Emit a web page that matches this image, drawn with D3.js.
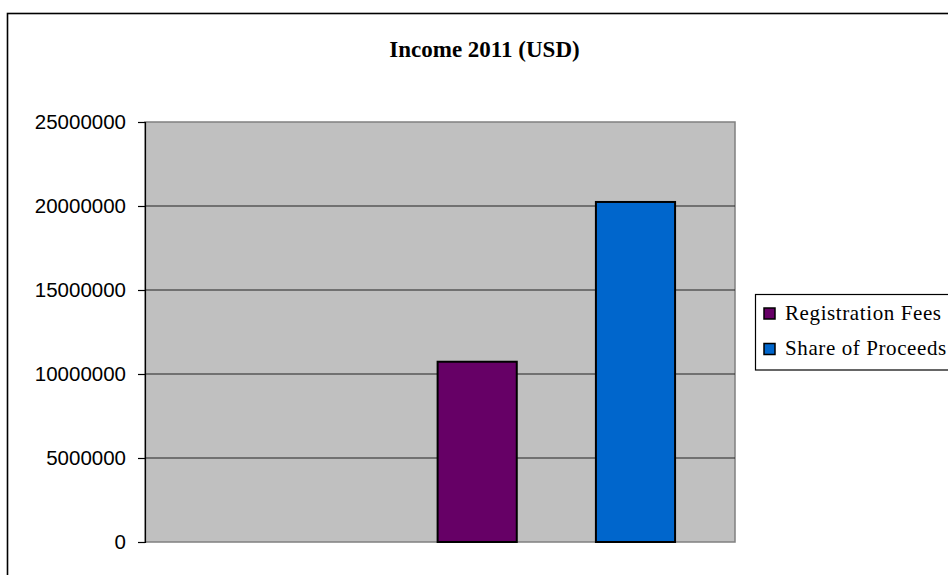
<!DOCTYPE html>
<html>
<head>
<meta charset="utf-8">
<script src="https://cdn.jsdelivr.net/npm/d3@7"></script>
<style>
  html, body { margin: 0; padding: 0; background: #fff; }
  svg { display: block; }
</style>
</head>
<body>
<svg id="chart" width="948" height="575"></svg>
<script>
// Data
const title = "Income 2011 (USD)";
const seriesNames = ["Registration Fees", "Share of Proceeds"];
const seriesValues = [10730000, 20240000];
const seriesColors = ["#660066", "#0066CC"];
const yTicks = [0, 5000000, 10000000, 15000000, 20000000, 25000000];

const svg = d3.select("#chart");
const W = 948, H = 575;
const plot = { left: 145, right: 735, top: 122, bottom: 542 };

// outer chart border (cropped at right & bottom)
svg.append("rect")
  .attr("x", 7.5).attr("y", 13.5)
  .attr("width", 1000).attr("height", 1000)
  .attr("fill", "#fff").attr("stroke", "#000").attr("stroke-width", 1.6);

// title
svg.append("text")
  .attr("x", 484.5).attr("y", 57)
  .attr("text-anchor", "middle")
  .attr("font-family", "Liberation Serif, Times New Roman, serif")
  .attr("font-weight", "bold")
  .attr("font-size", 23)
  .text(title);

const y = d3.scaleLinear().domain([0, 25000000]).range([plot.bottom, plot.top]);
const x = d3.scaleBand()
  .domain(seriesNames)
  .range([plot.left, plot.right])
  .paddingInner(0.5)
  .paddingOuter(1.1135)
  .align(0.83);

// plot area background
svg.append("rect")
  .attr("x", plot.left).attr("y", plot.top)
  .attr("width", plot.right - plot.left).attr("height", plot.bottom - plot.top)
  .attr("fill", "#C0C0C0").attr("stroke", "#808080").attr("stroke-width", 1.5);

// gridlines
svg.append("g")
  .selectAll("line")
  .data(yTicks.filter(t => t > 0 && t < 25000000))
  .join("line")
  .attr("x1", plot.left).attr("x2", plot.right)
  .attr("y1", d => y(d)).attr("y2", d => y(d))
  .attr("stroke", "#222").attr("stroke-width", 1);

// y axis
const yAxis = d3.axisLeft(y).tickValues(yTicks).tickSize(7).tickPadding(12)
  .tickFormat(d3.format("d"));
const gy = svg.append("g").attr("transform", `translate(${plot.left},0)`).call(yAxis);
gy.select(".domain").attr("stroke", "#000").attr("stroke-width", 1.2);
gy.selectAll(".tick line").attr("stroke", "#000").attr("stroke-width", 1.2);
gy.selectAll(".tick text")
  .attr("font-family", "Liberation Sans, Arial, sans-serif")
  .attr("font-size", 20.5)
  .attr("fill", "#000");

// bars
svg.append("g")
  .selectAll("rect")
  .data(seriesNames.map((n, i) => ({ name: n, value: seriesValues[i], color: seriesColors[i] })))
  .join("rect")
  .attr("x", d => x(d.name))
  .attr("y", d => y(d.value))
  .attr("width", x.bandwidth())
  .attr("height", d => y(0) - y(d.value))
  .attr("fill", d => d.color)
  .attr("stroke", "#000").attr("stroke-width", 2);

// legend
const lg = svg.append("g");
lg.append("rect")
  .attr("x", 755.5).attr("y", 294.5)
  .attr("width", 300).attr("height", 75.5)
  .attr("fill", "#fff").attr("stroke", "#000").attr("stroke-width", 1.2);
const items = lg.selectAll("g.item")
  .data(seriesNames.map((n, i) => ({ name: n, color: seriesColors[i] })))
  .join("g").attr("class", "item")
  .attr("transform", (d, i) => `translate(0, ${i * 35.5})`);
items.append("rect")
  .attr("x", 764).attr("y", 308)
  .attr("width", 11).attr("height", 11)
  .attr("fill", d => d.color).attr("stroke", "#000").attr("stroke-width", 1.5);
items.append("text")
  .attr("x", 785).attr("y", 319.5)
  .attr("font-family", "Liberation Serif, Times New Roman, serif")
  .attr("font-size", 21)
  .attr("letter-spacing", 0.6)
  .attr("fill", "#000")
  .text(d => d.name);
</script>
</body>
</html>
